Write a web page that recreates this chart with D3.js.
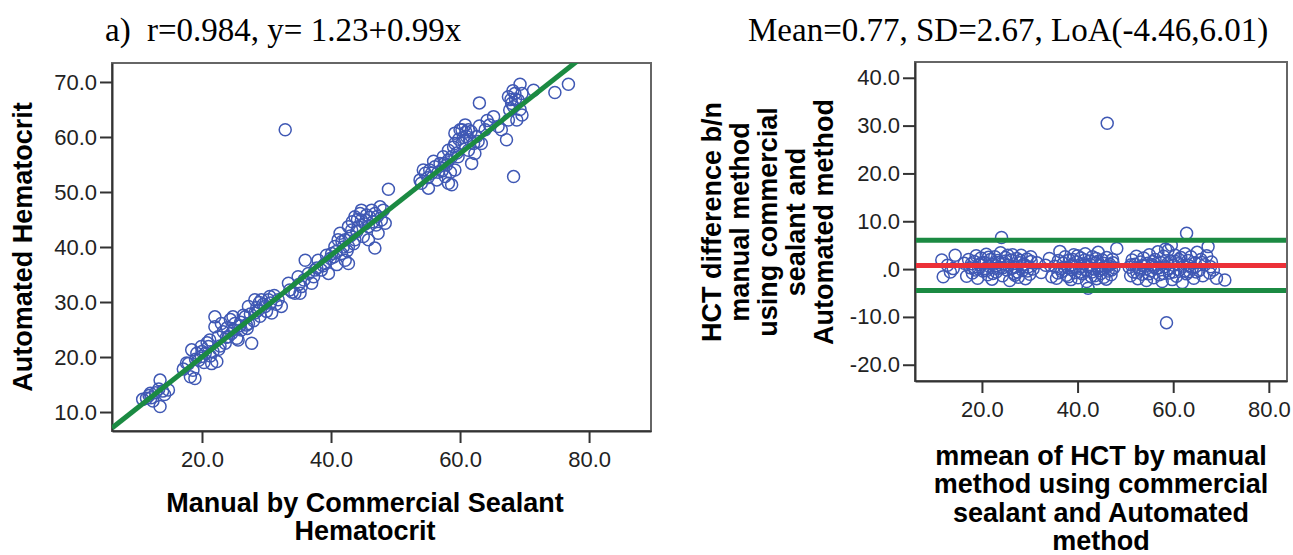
<!DOCTYPE html>
<html>
<head>
<meta charset="utf-8">
<script src="https://cdn.jsdelivr.net/npm/d3@7"></script>
<style>
  body { margin: 0; background: #fff; }
  svg { display: block; }
  text { font-family: "Liberation Sans", Arial, sans-serif; }
</style>
</head>
<body>
<svg></svg>
<script>
// ---- data ----
// left panel: manual (x) vs automated (y) hematocrit
const scatterPoints = [
  [10.8,12.3],[11.4,12.5],[11.8,13.0],[12.1,12.6],[12.4,12.0],[12.8,13.5],[13.3,14.2],[13.5,15.8],
  [13.5,11.0],[13.9,13.8],[14.2,13.2],[14.8,14.0],[12.0,13.4],
  [17.1,17.8],[17.6,18.9],[17.9,18.8],[18.2,16.4],[18.4,21.3],[18.6,17.6],[18.9,16.1],[19.2,20.7],
  [19.5,19.4],[19.9,21.9],[19.9,20.1],[20.3,19.0],[20.5,20.7],[20.8,22.6],[21.0,21.9],[21.2,23.1],
  [21.5,18.8],[21.7,21.0],[22.0,25.5],[22.0,27.3],[22.3,19.2],[22.5,23.7],[22.8,22.0],[23.0,26.1],
  [23.3,24.6],[23.6,22.5],[23.9,25.3],[24.1,23.7],[24.4,26.8],[24.6,24.3],[24.8,27.3],[25.1,26.1],
  [25.4,23.4],[25.6,23.1],[25.9,25.7],[26.1,24.9],[26.4,27.6],[26.7,27.3],[27.0,25.2],[27.2,29.2],
  [27.2,26.1],[27.5,27.8],[27.7,22.5],[28.0,26.6],[28.2,28.0],[28.2,30.4],[28.5,29.0],[28.7,28.5],
  [29.0,27.4],[29.2,30.4],[29.5,29.6],[29.8,29.2],[30.0,28.3],[30.3,30.4],[30.6,29.8],[30.8,28.0],
  [31.2,31.2],[31.5,29.6],[31.8,30.4],[32.3,29.2],
  [19.0,19.6],[20.0,21.0],[21.3,20.2],[22.6,21.4],[23.8,23.6],[24.9,25.0],[26.0,26.3],[26.9,25.8],
  [28.9,29.9],[30.5,31.0],
  [33.4,33.4],[33.6,32.2],[34.0,31.8],[34.4,31.6],[34.9,34.6],[35.2,31.6],[35.4,32.8],[35.8,34.0],
  [36.0,37.6],[36.5,35.2],[37.0,33.4],[37.3,34.6],[37.5,35.8],[38.0,37.6],[38.5,35.8],[38.8,36.6],
  [39.1,37.0],[39.6,35.2],[39.9,37.9],[40.1,38.8],[40.4,38.2],[40.6,40.1],[40.9,36.8],[41.1,41.3],
  [41.4,42.5],[41.6,38.8],[41.9,40.0],[42.2,37.6],[42.2,41.3],[42.5,39.3],[42.7,37.0],[42.7,40.1],
  [42.7,43.7],[43.0,42.0],[43.2,43.1],[43.5,40.6],[43.7,41.3],[43.7,45.5],[44.0,42.8],[44.2,43.7],
  [44.5,46.1],[44.7,44.9],[44.7,46.7],[45.0,41.9],[45.3,44.2],[45.8,43.7],[45.8,41.3],[46.0,45.4],
  [46.3,46.7],[46.8,39.8],[46.8,46.1],[47.0,44.0],[47.3,42.5],[47.6,47.3],[47.8,44.9],[48.1,46.7],
  [48.4,44.3],[48.9,50.5],
  [35.0,33.2],[37.8,36.2],[39.3,38.5],[40.8,39.2],[41.7,41.0],[43.3,44.6],[44.1,45.0],[45.5,45.8],
  [46.5,44.6],[47.2,45.6],
  [53.8,52.2],[54.0,51.6],[54.3,54.0],[54.6,53.4],[55.1,50.7],[55.3,54.0],[55.6,53.4],[55.9,55.6],
  [56.1,54.6],[56.4,52.2],[56.9,55.2],[57.2,53.8],[57.4,56.4],[57.7,52.8],[57.9,54.9],[58.2,51.6],
  [58.2,55.8],[58.2,57.6],[58.5,53.6],[58.7,51.3],[58.7,56.4],[59.0,58.2],[59.2,54.0],[59.2,58.8],
  [59.2,60.7],[59.5,57.1],[59.7,56.4],[60.0,61.3],[60.3,58.8],[60.3,61.3],[60.5,59.9],[60.8,62.2],
  [61.0,60.1],[61.3,57.6],[61.3,61.3],[61.5,59.5],[61.8,55.2],[62.1,58.8],[62.3,57.0],[62.6,60.1],
  [63.0,62.0],[63.3,58.8],[63.9,61.3],[64.6,62.2],[65.2,63.7],[65.9,61.9],[66.4,61.3],
  [55.0,52.6],[56.6,53.6],[57.6,55.2],[59.8,59.6],[60.9,60.9],[61.7,61.0],[62.8,59.2],[64.2,63.0],
  [67.2,59.5],[67.5,63.1],[67.5,67.3],[67.7,64.9],[68.0,66.1],[68.3,65.5],[68.5,67.9],[68.8,63.1],
  [69.0,66.7],[69.3,69.6],[69.6,64.0],[69.6,67.9],[68.2,68.4],[67.9,66.8],[68.6,66.9],[69.3,65.0],
  [63.0,66.2],[71.4,68.5],[74.7,68.1],[76.8,69.6],[68.3,52.8],[32.9,61.3]
];
// fitted line as drawn in the picture
const fitIntercept = 1.5;
const fitSlope = 0.925;

// right panel: mean of both methods (x) vs difference (y)
const baPoints = [
  [11.6,1.9],[11.9,-1.6],[14.4,2.9],[14.0,0.1],[12.8,0.8],[13.4,-0.6],
  [16.3,1.2],[16.8,-1.5],[17.2,2.0],[17.5,0.3],[18.0,-0.8],[18.4,1.6],[18.8,2.8],[19.1,-1.9],
  [19.5,0.9],[19.8,2.3],[20.2,-0.4],[20.5,1.4],[20.9,3.1],[21.2,-1.2],[21.5,0.6],[21.8,2.0],
  [22.1,-2.1],[22.4,1.0],[22.7,2.6],[23.0,-0.6],[23.3,1.8],[23.6,0.2],[23.9,3.4],[24.1,6.6],
  [24.3,-1.4],[24.6,1.1],[24.9,2.4],[25.2,-0.2],[25.5,0.8],[25.8,-2.4],[26.1,1.9],[26.4,3.0],
  [26.7,-0.9],[27.0,0.4],[27.3,2.2],[27.6,-1.7],[27.9,1.3],[28.2,2.9],[28.5,-0.3],[28.8,1.0],
  [29.1,-2.0],[29.4,2.1],[29.7,0.5],[30.0,-1.1],[30.3,1.6],[30.7,0.0],[19.3,0.0],[21.0,-0.3],
  [22.9,0.7],[25.0,1.7],[26.9,-1.3],[28.7,0.9],
  [17.8,1.1],[18.6,-0.2],[19.9,1.3],[20.7,0.1],[21.4,2.5],[22.3,-0.9],[23.5,1.4],[24.4,0.3],
  [25.4,2.9],[26.3,0.2],[27.4,-0.6],[28.0,1.8],[29.5,-0.4],[30.2,2.6],
  [31.5,1.3],[32.4,-0.7],[33.3,0.8],[34.1,2.2],[34.6,-1.6],
  [35.2,0.6],[35.6,-1.9],[36.0,1.8],[36.3,3.7],[36.7,-0.5],[37.0,1.2],[37.4,2.6],[37.7,-1.3],
  [38.0,0.3],[38.3,1.9],[38.6,-2.2],[38.9,0.9],[39.2,3.0],[39.5,-0.7],[39.8,1.5],[40.1,-1.8],
  [40.4,0.2],[40.7,2.3],[41.0,-1.0],[41.3,1.1],[41.6,3.2],[41.9,-2.6],[42.2,0.5],[42.5,1.7],
  [42.2,-4.0],[42.8,-1.5],[43.1,2.6],[43.4,0.0],[43.7,1.3],[44.0,-2.0],[44.3,3.5],[44.6,0.7],
  [44.9,-0.9],[45.2,1.9],[45.5,-1.7],[45.8,0.4],[46.1,2.4],[46.4,-0.4],[46.7,1.0],[47.0,-1.2],
  [47.3,2.0],[47.6,0.3],[48.2,4.3],[36.5,0.0],[38.7,-0.1],[40.9,0.6],[43.0,-0.6],[45.0,0.1],
  [47.1,-0.2],[39.0,2.0],[41.8,-0.3],[44.2,1.6],[46.0,-2.1],[46.2,30.5],
  [35.9,-0.8],[37.2,0.4],[38.1,-1.6],[39.6,0.5],[40.6,-0.6],[41.5,1.9],[42.7,0.9],[43.6,-1.4],
  [44.5,-0.3],[45.4,1.2],[46.5,0.7],[47.4,1.3],[43.9,2.2],[40.0,2.8],
  [50.8,0.4],[51.1,-1.4],[51.4,1.9],[51.7,-0.6],[52.0,1.0],[52.3,2.7],[52.6,-2.0],[52.9,0.2],
  [53.2,1.5],[53.5,-1.1],[53.8,2.3],[54.1,0.6],[54.4,-2.4],[54.7,1.2],[55.0,3.0],[55.3,-0.4],
  [55.6,0.9],[55.9,-1.8],[56.2,2.0],[56.5,0.1],[56.8,3.6],[57.1,-1.2],[57.4,1.4],[57.7,-2.6],
  [58.0,2.7],[58.3,0.5],[58.6,-11.2],[58.9,3.9],[59.2,-0.8],[59.5,1.7],[59.8,-2.2],[60.1,0.8],
  [60.4,2.9],[60.7,-1.5],[61.0,1.1],[61.3,-0.2],[61.6,2.4],[61.9,-2.8],[62.2,0.6],[62.8,7.5],
  [62.5,3.2],[62.8,-1.0],[63.1,1.8],[63.4,-0.5],[63.7,2.6],[64.0,0.2],[64.3,-1.9],[64.6,1.3],
  [65.0,3.5],[65.4,-0.3],[65.8,2.0],[66.2,-1.4],[66.6,0.9],[67.0,2.8],[67.3,4.7],[67.6,-0.8],
  [68.0,1.5],[68.4,-0.2],[69.05,-1.9],[70.8,-2.3],[53.0,-0.2],[56.0,0.4],[59.0,0.0],[60.5,1.6],
  [51.2,0.9],[52.4,-0.7],[53.6,0.7],[54.9,-1.0],[55.8,1.6],[57.0,0.3],[57.9,-0.9],[58.8,1.1],
  [60.0,-0.6],[61.2,2.0],[62.4,-0.4],[63.3,0.7],[64.8,-0.6],[66.0,1.4],[67.8,0.5],[58.4,4.2],
  [59.6,5.0]
];
// mean difference and limits of agreement
const baLines = [6.01, 0.77, -4.46];
const baLineColors = ['#1b8a42', '#ec3038', '#1b8a42'];

// ticks
const leftXTicks = [20, 40, 60, 80];
const leftYTicks = [10, 20, 30, 40, 50, 60, 70];
const rightXTicks = [20, 40, 60, 80];
const rightYTicks = [-20, -10, 0, 10, 20, 30, 40];
const rightYTickLabels = ['-20.0', '-10.0', '.0', '10.0', '20.0', '30.0', '40.0'];

// titles
const leftTitle = ['a)', 'r=0.984, y= 1.23+0.99x'];
const rightTitle = 'Mean=0.77, SD=2.67, LoA(-4.46,6.01)';
const leftXLabel = ['Manual by Commercial Sealant', 'Hematocrit'];
const leftYLabel = ['Automated Hematocrit'];
const rightXLabel = ['mmean of HCT by manual', 'method using commercial', 'sealant and Automated', 'method'];
const rightYLabel = ['HCT difference b/n', 'manual method', 'using commercial', 'sealant and', 'Automated method'];

// ---- layout ----
const size = {w: 1293, h: 555};
const left = {l: 112, r: 651, t: 63, b: 431};
const right = {l: 915, r: 1287, t: 62, b: 381};
const markerColor = '#3f58b4';

const svg = d3.select('svg')
    .attr('width', size.w)
    .attr('height', size.h);

const fmt = d3.format('.1f');

function styleAxis(g) {
    g.select('.domain').attr('stroke', '#333').attr('stroke-width', 2);
    g.selectAll('.tick line').attr('stroke', '#333').attr('stroke-width', 2);
    g.selectAll('.tick text')
        .attr('fill', '#222')
        .style('font-size', '22px')
        .style('font-family', '"Liberation Sans", Arial, sans-serif');
}

function drawFrame(box) {
    svg.append('rect')
        .attr('x', box.l).attr('y', box.t)
        .attr('width', box.r - box.l).attr('height', box.b - box.t)
        .attr('fill', 'none')
        .attr('stroke', '#666')
        .attr('stroke-width', 2);
}

function addClip(id, box) {
    svg.append('clipPath').attr('id', id)
        .append('rect')
        .attr('x', box.l).attr('y', box.t)
        .attr('width', box.r - box.l).attr('height', box.b - box.t);
}

function multiLine(lines, x, y0, step, rotate) {
    let t = svg.append('text')
        .attr('text-anchor', 'middle')
        .attr('fill', '#000')
        .style('font-weight', 'bold')
        .style('font-size', '27px');
    if (rotate) {
        t.attr('transform', 'translate(' + x + ',' + y0 + ') rotate(-90)');
        lines.forEach((s, i) => t.append('tspan').attr('x', 0).attr('y', i * step).text(s));
    } else {
        lines.forEach((s, i) => t.append('tspan').attr('x', x).attr('y', y0 + i * step).text(s));
    }
}

function drawMarkers(points, xs, ys, clipId) {
    svg.append('g').attr('clip-path', 'url(#' + clipId + ')')
        .selectAll('circle')
        .data(points)
        .enter()
        .append('circle')
        .attr('cx', d => xs(d[0]))
        .attr('cy', d => ys(d[1]))
        .attr('r', 6)
        .attr('fill', 'none')
        .attr('stroke', markerColor)
        .attr('stroke-width', 1.5);
}

// ---- left panel ----
const lx = d3.scaleLinear().domain([6.05, 89.6]).range([left.l, left.r]);
const ly = d3.scaleLinear().domain([6.55, 73.45]).range([left.b, left.t]);

drawFrame(left);
addClip('clipL', left);

svg.append('g')
    .attr('transform', 'translate(0,' + left.b + ')')
    .call(d3.axisBottom(lx).tickValues(leftXTicks).tickFormat(fmt).tickSize(12).tickSizeOuter(0).tickPadding(8))
    .call(styleAxis);

svg.append('g')
    .attr('transform', 'translate(' + left.l + ',0)')
    .call(d3.axisLeft(ly).tickValues(leftYTicks).tickFormat(fmt).tickSize(12).tickSizeOuter(0).tickPadding(3))
    .call(styleAxis);

drawMarkers(scatterPoints, lx, ly, 'clipL');

const fitX = lx.domain();
svg.append('line')
    .attr('clip-path', 'url(#clipL)')
    .attr('x1', lx(fitX[0])).attr('y1', ly(fitIntercept + fitSlope * fitX[0]))
    .attr('x2', lx(fitX[1])).attr('y2', ly(fitIntercept + fitSlope * fitX[1]))
    .attr('stroke', '#1b8a42')
    .attr('stroke-width', 5);

// ---- right panel ----
const rx = d3.scaleLinear().domain([6.0, 83.8]).range([right.l, right.r]);
const ry = d3.scaleLinear().domain([-23.4, 43.3]).range([right.b, right.t]);

drawFrame(right);
addClip('clipR', right);

svg.append('g')
    .attr('transform', 'translate(0,' + right.b + ')')
    .call(d3.axisBottom(rx).tickValues(rightXTicks).tickFormat(fmt).tickSize(12).tickSizeOuter(0).tickPadding(8))
    .call(styleAxis);

svg.append('g')
    .attr('transform', 'translate(' + right.l + ',0)')
    .call(d3.axisLeft(ry).tickValues(rightYTicks).tickFormat((d, i) => rightYTickLabels[i]).tickSize(12).tickSizeOuter(0).tickPadding(3))
    .call(styleAxis);

drawMarkers(baPoints, rx, ry, 'clipR');

svg.append('g')
    .selectAll('line')
    .data(baLines)
    .enter()
    .append('line')
    .attr('x1', right.l + 1).attr('x2', right.r - 1)
    .attr('y1', d => ry(d)).attr('y2', d => ry(d))
    .attr('stroke', (d, i) => baLineColors[i])
    .attr('stroke-width', 5);

// ---- texts ----
const serif = '"Liberation Serif", "Times New Roman", serif';
svg.append('text').attr('x', 105).attr('y', 41)
    .style('font-family', serif).style('font-size', '33px')
    .text(leftTitle[0]);
svg.append('text').attr('x', 147).attr('y', 41)
    .style('font-family', serif).style('font-size', '33px')
    .text(leftTitle[1]);
svg.append('text').attr('x', 748).attr('y', 41)
    .style('font-family', serif).style('font-size', '33px')
    .text(rightTitle);

multiLine(leftXLabel, 365, 512, 28, false);
multiLine(leftYLabel, 32, 247, 28, true);
multiLine(rightXLabel, 1101, 465, 28.3, false);
multiLine(rightYLabel, 721, 222, 28, true);
</script>
</body>
</html>
